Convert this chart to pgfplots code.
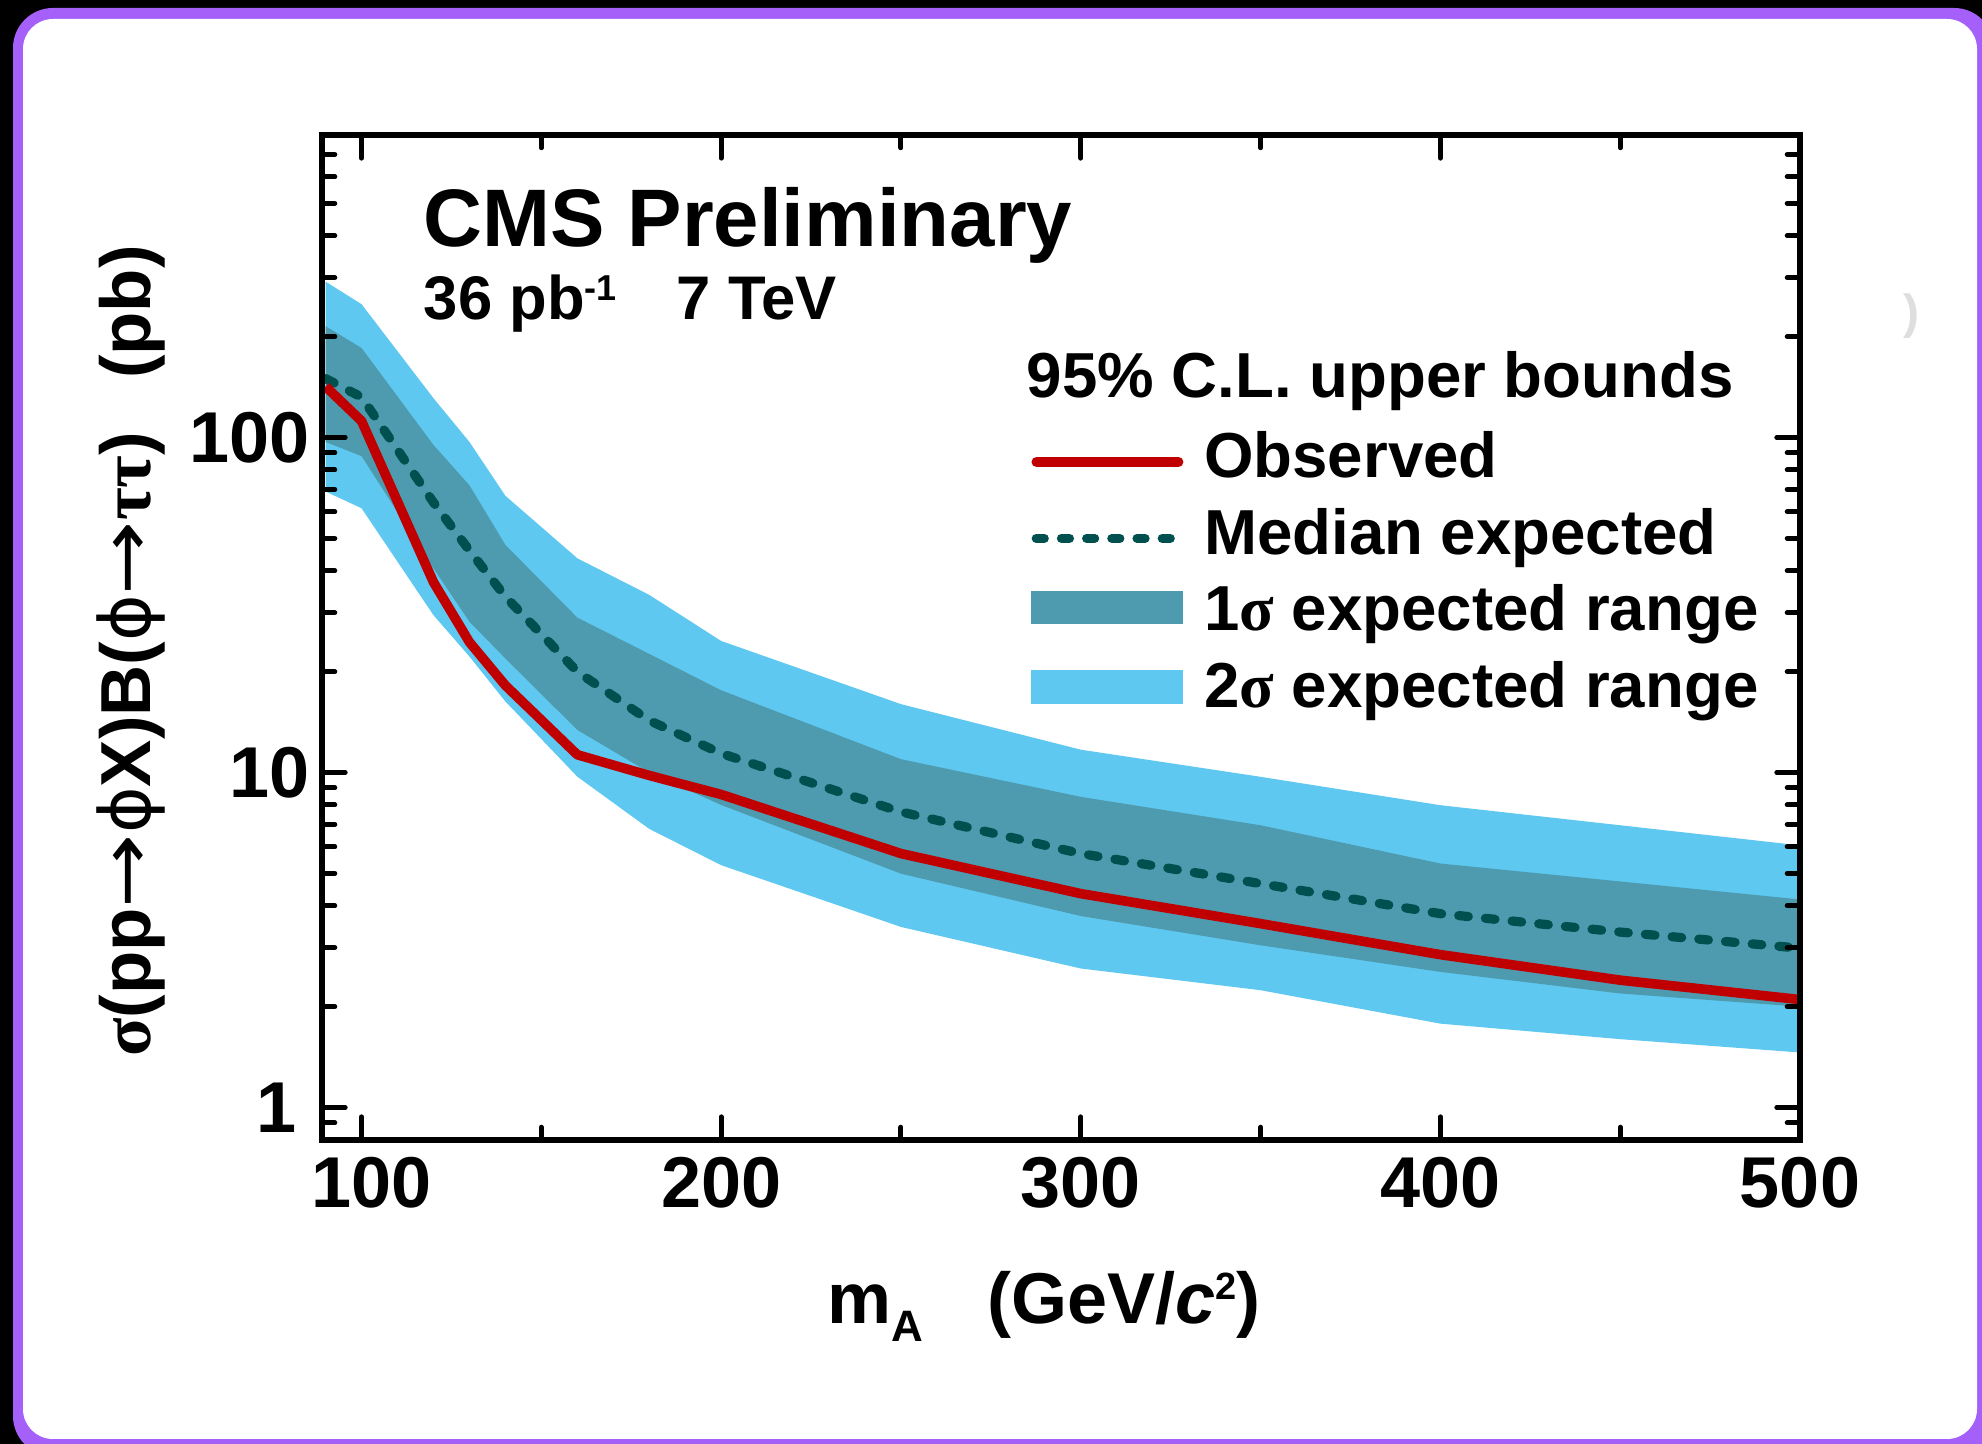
\documentclass[border=0pt]{standalone}
\usepackage{fontspec}
\setmainfont{Liberation Sans}
\newfontfamily\greekfont{Liberation Serif}
\newfontfamily\phifont{DejaVu Sans}
\usepackage{graphicx}
\usepackage{pgfplots}
\usepackage{pgfplotstable}
\pgfplotsset{compat=1.18}
\definecolor{twosig}{RGB}{95,200,240}
\definecolor{onesig}{RGB}{78,154,174}
\definecolor{medexp}{RGB}{0,80,80}
\definecolor{obsred}{RGB}{192,0,0}
\definecolor{framepurple}{RGB}{164,96,248}
\pgfplotsset{
  lineleg/.style={legend image code/.code={\draw[##1] (1.3pt,0pt) -- (36.7pt,0pt);}},
  dashleg/.style={legend image code/.code={\draw[##1] (1.2pt,0pt) -- (38pt,0pt);}},
  boxlegA/.style={legend image code/.code={\fill[##1] (0pt,-2.3pt) rectangle (38pt,5.9pt);}},
  boxlegB/.style={legend image code/.code={\fill[##1] (0pt,-3.2pt) rectangle (38pt,5.3pt);}},
}
% observed and median expected limits
\pgfplotstableread{
m obs exp
90 142 150
100 112 132
120 37 64
130 24.5 46
140 18.2 33.5
160 11.3 20.0
180 9.8 14.3
200 8.6 11.4
250 5.73 7.63
300 4.35 5.73
350 3.54 4.66
400 2.86 3.79
450 2.40 3.34
500 2.10 2.99
}\linetab
% 2 sigma band: upper edge forward, lower edge backward
\pgfplotstableread{
m v
90 292
100 250
120 131
130 97
140 67
160 43.6
180 33.9
200 24.7
250 16.0
300 11.7
350 9.71
400 7.99
450 6.96
500 6.06
500 1.46
450 1.60
400 1.78
350 2.24
300 2.60
250 3.46
200 5.29
180 6.79
160 9.72
140 16.3
130 22.2
120 29.5
100 61.5
90 69
}\twoband
% 1 sigma band: upper edge forward, lower edge backward
\pgfplotstableread{
m v
90 215
100 185
120 95
130 72
140 47.8
160 29.0
180 22.6
200 17.6
250 10.96
300 8.46
350 6.96
400 5.35
450 4.73
500 4.18
500 2.0
450 2.19
400 2.54
350 3.05
300 3.73
250 4.99
200 8.0
180 10.0
160 13.4
140 21.9
130 28.2
120 40.7
100 88
90 97
}\oneband
\newcommand{\arr}{\scalebox{1.25}[1]{\phifont\mdseries →}}
\newcommand{\gk}[1]{{\greekfont\bfseries #1}}
\newcommand{\ph}{{\phifont\mdseries ϕ}}
\begin{document}
\begin{tikzpicture}[x=0.25pt,y=0.25pt]
\begin{scope}
\clip (0,0) rectangle (1982,1444);
\fill[black] (0,0) rectangle (1982,1444);
\fill[framepurple, rounded corners=10pt] (13,-12) rectangle (1994,1436);
\fill[white, rounded corners=7.5pt] (23,5) rectangle (1977,1425);
\end{scope}
\node[text=black!13, font=\fontsize{12}{12}\selectfont\bfseries, inner sep=0pt] at (1911,1128) {)};
\begin{axis}[
  at={(80.5pt,76pt)}, anchor=south west,
  width=369.5pt, height=251.25pt, scale only axis,
  xmin=89, xmax=500, ymode=log, ymin=0.8, ymax=800,
  axis on top,
  axis line style={line width=1.4pt},
  tick align=inside,
  xtick={100,200,300,400,500}, xticklabels={\hspace*{5pt}100,200,300,400,500},
  minor xtick={150,250,350,450},
  ytick={1,10,100}, yticklabels={1\hspace*{3.2pt},10,100},
  minor ytick={0.8,0.9,2,3,4,5,6,7,8,9,20,30,40,50,60,70,80,90,200,300,400,500,600,700,800},
  major tick length=5.8pt, minor tick length=3.2pt,
  tick style={line width=1.25pt, line cap=round, black},
  tick label style={font=\fontsize{18}{18}\selectfont\bfseries},
  xticklabel style={inner sep=0pt, yshift=-4pt},
  yticklabel style={inner sep=0pt, xshift=-3pt},
  xlabel={m\raisebox{-4.5pt}{\fontsize{11}{11}\selectfont A}\hspace{16pt}(GeV/\textit{c}\raisebox{6pt}{\fontsize{9.5}{9.5}\selectfont 2})},
  xlabel style={at={(axis description cs:0.4885,-0.1825)}, anchor=base, inner sep=0pt, font=\fontsize{18}{18}\selectfont\bfseries},
  ylabel={\gk{σ}(pp\arr\ph X)B(\ph\arr\gk{ττ})\hspace{0.75em}(pb)},
  ylabel style={at={(axis description cs:-0.1294,0.4866)}, anchor=center, inner sep=0pt, font=\fontsize{17.7}{17.7}\selectfont\bfseries},
  legend style={draw=none, fill=none, at={(0.4800,0.7045)}, anchor=north west,
    inner sep=0pt, outer sep=0pt, row sep=4.1pt, column sep=4.05pt,
    font=\fontsize{15.9}{15.9}\selectfont\bfseries,
    nodes={inner sep=0pt, text height=11.5pt, text depth=3.5pt}},
  legend cell align=left,
]
\addplot[fill=twosig, draw=none, forget plot] table[x=m,y=v]{\twoband};
\addplot[fill=onesig, draw=none, forget plot] table[x=m,y=v]{\oneband};
\addplot[medexp, line width=2.3pt, line cap=round, dash pattern=on 2.4pt off 4.3pt, forget plot] table[x=m,y=exp]{\linetab};
\addplot[obsred, line width=2.4pt, line join=round, forget plot] table[x=m,y=obs]{\linetab};
\addlegendimage{obsred, line width=2.6pt, line cap=round, lineleg}
\addlegendentry{Observed}
\addlegendimage{medexp, line width=2.3pt, line cap=round, dash pattern=on 2.0pt off 4.3pt, dashleg}
\addlegendentry{Median expected}
\addlegendimage{fill=onesig, draw=none, boxlegA}
\addlegendentry{1\gk{σ} expected range}
\addlegendimage{fill=twosig, draw=none, boxlegB}
\addlegendentry{2\gk{σ} expected range}
\end{axis}
\node[anchor=base west, inner sep=0pt, font=\fontsize{20.4}{20.4}\selectfont\bfseries] at (423,1197.5) {CMS Preliminary};
\node[anchor=base west, inner sep=0pt, font=\fontsize{15.4}{15.4}\selectfont\bfseries] at (423,1124) {36 pb\raisebox{4.8pt}{\fontsize{9}{9}\selectfont -1}\hspace{15pt}7 TeV};
\node[anchor=base west, inner sep=0pt, font=\fontsize{15.9}{15.9}\selectfont\bfseries] at (1026,1046) {95\% C.L. upper bounds};
\pgfresetboundingbox
\useasboundingbox (0,0) rectangle (1982,1444);
\end{tikzpicture}
\end{document}
